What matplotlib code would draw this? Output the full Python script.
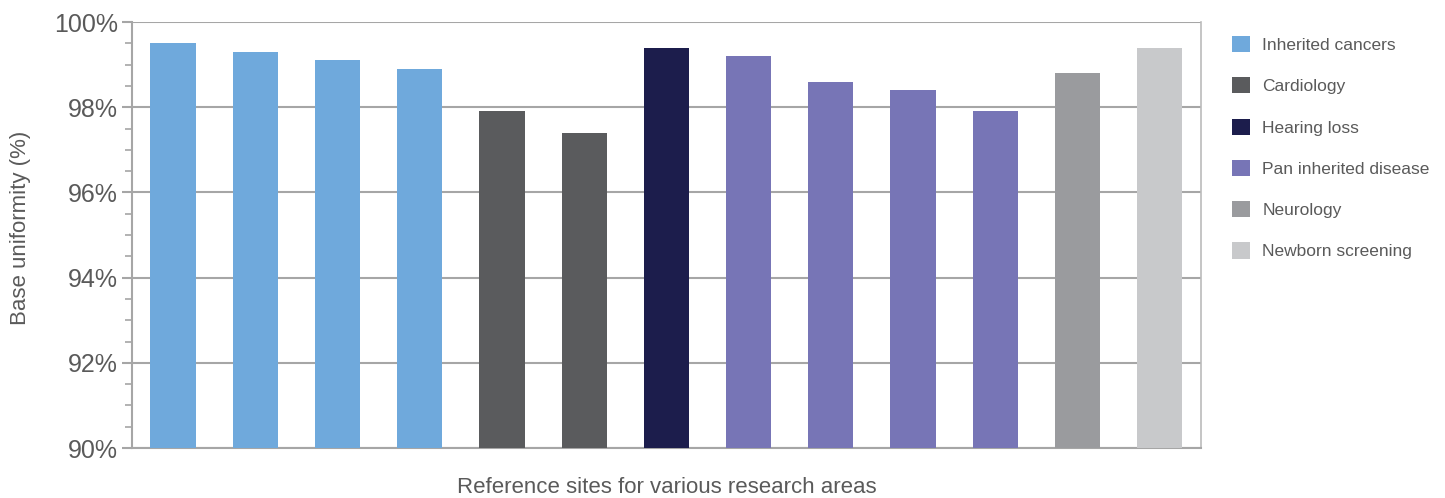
import matplotlib.pyplot as plt
from matplotlib.patches import Patch
from matplotlib.ticker import MultipleLocator, FuncFormatter

plt.rcParams['font.family'] = ['Liberation Sans', 'DejaVu Sans']

areas = ['Inherited cancers', 'Cardiology', 'Hearing loss',
         'Pan inherited disease', 'Neurology', 'Newborn screening']
area_colors = ['#6FA9DC', '#5A5B5D', '#1C1D4C', '#7775B6', '#9A9B9E', '#C8C9CB']

site_area = ['Inherited cancers'] * 4 + ['Cardiology'] * 2 + ['Hearing loss'] \
    + ['Pan inherited disease'] * 4 + ['Neurology', 'Newborn screening']
uniformity = [99.5, 99.3, 99.1, 98.9, 97.9, 97.4, 99.4,
              99.2, 98.6, 98.4, 97.9, 98.8, 99.4]

text_col = '#5A5A5A'
line_col = '#A6A6A6'

fig = plt.figure(figsize=(14.45, 4.98), dpi=100)
ax = fig.add_axes([0.0913, 0.1004, 0.7397, 0.8554])

cmap = dict(zip(areas, area_colors))
x = range(len(uniformity))
ax.bar(x, [v - 90 for v in uniformity], bottom=90, width=0.55,
       color=[cmap[a] for a in site_area], zorder=3)

ax.set_xlim(-0.5, len(uniformity) - 0.5)
ax.set_ylim(90, 100)
ax.set_xticks([])
ax.yaxis.set_major_locator(MultipleLocator(2))
ax.yaxis.set_minor_locator(MultipleLocator(0.5))
ax.yaxis.set_major_formatter(FuncFormatter(lambda v, p: f'{v:.0f}%'))
ax.tick_params(axis='y', which='major', length=7, width=1.5, color=line_col,
               labelsize=18, labelcolor=text_col, pad=3)
ax.tick_params(axis='y', which='minor', length=5, width=1.2, color=line_col)
ax.grid(axis='y', which='major', color=line_col, lw=1.5, zorder=1)

for side in ['left', 'right', 'bottom']:
    ax.spines[side].set_color(line_col)
    ax.spines[side].set_linewidth(1.5)
ax.spines['top'].set_visible(False)
ax.spines['right'].set_linewidth(1.2)
ax.spines['right'].set_color('#BBBBBB')

ax.set_ylabel('Base uniformity (%)', fontsize=16, color=text_col, va='center')
ax.yaxis.set_label_coords(-0.1047, 0.516)
ax.set_xlabel('Reference sites for various research areas', fontsize=16,
              color=text_col, va='center')
ax.xaxis.set_label_coords(0.5, -0.0916)

handles = [Patch(facecolor=c, edgecolor='none') for c in area_colors]
fig.legend(handles, areas, loc='upper left', bbox_to_anchor=(1232 / 1445, 1 - 36 / 498),
           frameon=False, fontsize=12.5, labelcolor=text_col, handlelength=1.05,
           handleheight=1.05, handletextpad=0.7, labelspacing=1.4, borderpad=0,
           borderaxespad=0)

fig.savefig('out.png', dpi=100)
